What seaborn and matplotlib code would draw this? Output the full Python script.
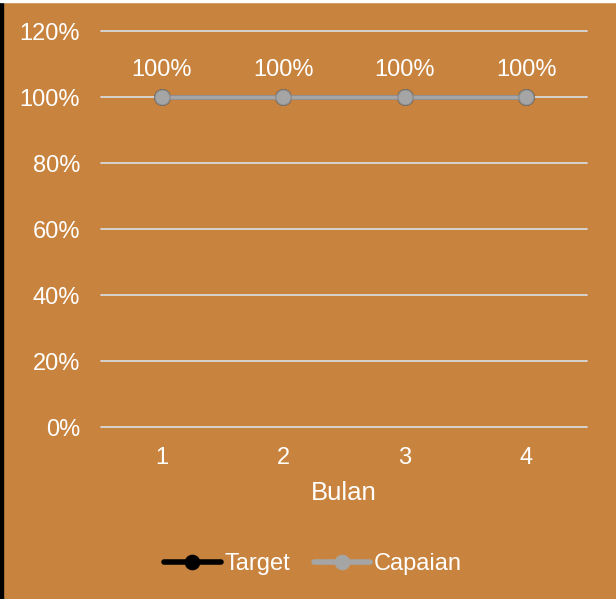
import matplotlib
matplotlib.use("Agg")
import matplotlib.pyplot as plt
import matplotlib.patches as mpatches
import pandas as pd
import seaborn as sns

# data
bulan = [1, 2, 3, 4]
target = [1.0, 1.0, 1.0, 1.0]
capaian = [1.0, 1.0, 1.0, 1.0]
capaian_labels = ["100%", "100%", "100%", "100%"]
y_ticks = [0, 0.2, 0.4, 0.6, 0.8, 1.0, 1.2]

bg = "#C8843F"
grid_col = "#D9D9D9"

df = pd.DataFrame({
    "Bulan": [str(b) for b in bulan] * 2,
    "Nilai": target + capaian,
    "Seri": ["Target"] * len(bulan) + ["Capaian"] * len(bulan),
})

sns.set_theme(style="white")
plt.rcParams["font.family"] = ["Liberation Sans", "DejaVu Sans"]

fig = plt.figure(figsize=(6.16, 5.99), dpi=100, facecolor=bg)
ax = fig.add_axes([0.164, 0.287, 0.789, 0.661])
ax.set_facecolor(bg)

sns.lineplot(data=df, x="Bulan", y="Nilai", hue="Seri",
             palette={"Target": "black", "Capaian": "#A5A5A5"},
             marker="o", markersize=11, linewidth=3.4, ax=ax,
             markeredgecolor=None)
for line, ec in zip(ax.lines, ["black", "#8C8C8C"]):
    line.set_markeredgecolor(ec)
    line.set_markeredgewidth(1)

for i, lab in enumerate(capaian_labels):
    ax.annotate(lab, (i, capaian[i]), xytext=(0, 11.5), textcoords="offset points",
                ha="center", va="bottom", color="white", fontsize=17)

ax.set_xlim(-0.5, len(bulan) - 0.5)
ax.set_ylim(0, 1.2)
ax.set_yticks(y_ticks)
ax.set_yticklabels([f"{int(round(v * 100))}%" for v in y_ticks])
ax.yaxis.grid(True, color=grid_col, linewidth=1.3)
for gl in ax.get_ygridlines():
    gl.set_clip_on(False)
ax.set_axisbelow(True)
for s in ax.spines.values():
    s.set_visible(False)
ax.tick_params(axis="both", colors="white", labelsize=17, length=0)
ax.tick_params(axis="y", pad=15)
ax.tick_params(axis="x", pad=14)
ax.set_xlabel("Bulan", color="white", fontsize=18.5, labelpad=9)
ax.set_ylabel("")

handles, labels = ax.get_legend_handles_labels()
leg = fig.legend(handles, labels, loc="center", bbox_to_anchor=(0.508, 0.058),
                 ncol=2, frameon=False, fontsize=17, handlelength=2.4,
                 handletextpad=0.15, columnspacing=1.0)
for t in leg.get_texts():
    t.set_color("white")
for h in leg.legend_handles:
    h.set_markersize(10.5)
    h.set_linewidth(4)
ax.get_legend().remove()

# thin frame strips at the image edges
fig.patches.append(mpatches.Rectangle((0, 0), 3 / 616, 1, transform=fig.transFigure,
                                      color="black", zorder=10))
fig.patches.append(mpatches.Rectangle((0, 1 - 2 / 599), 1, 2 / 599, transform=fig.transFigure,
                                      color="white", zorder=10))

fig.savefig("out.png", dpi=100, facecolor=bg)
